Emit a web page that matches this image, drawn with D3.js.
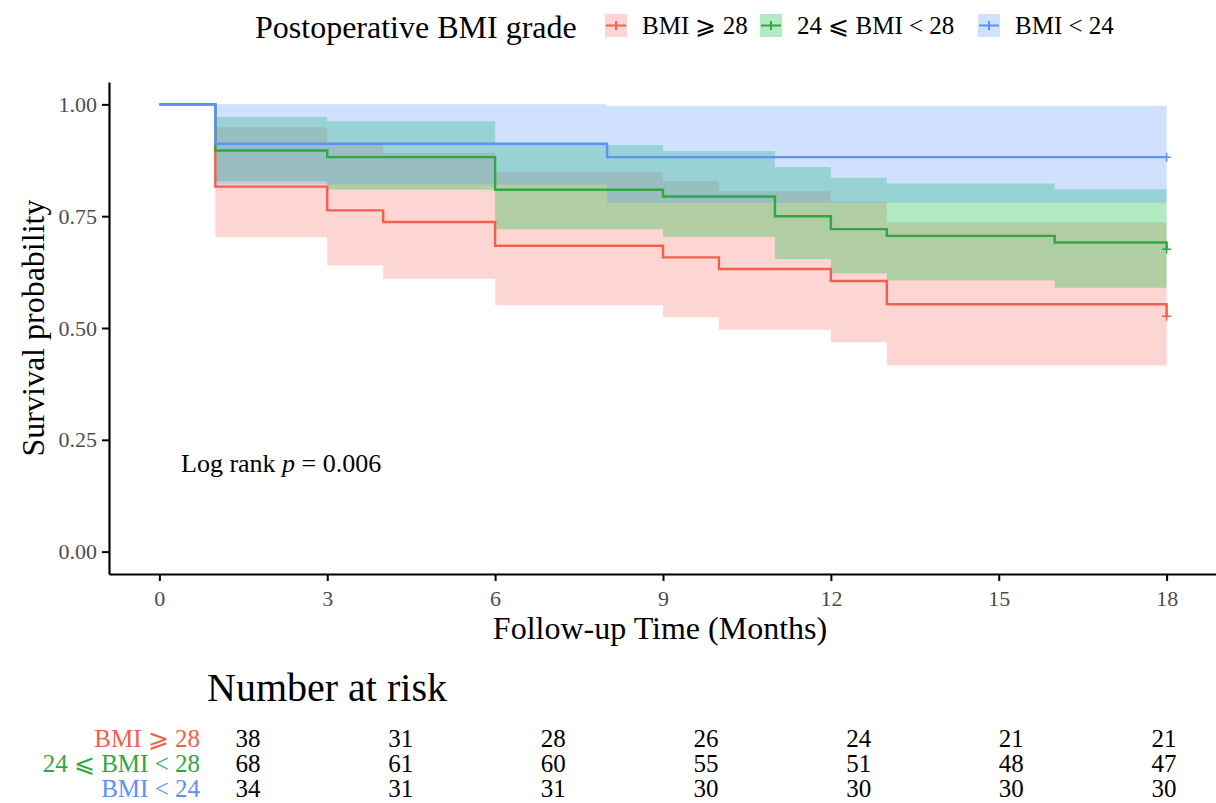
<!DOCTYPE html>
<meta charset="utf-8">
<script src="https://cdn.jsdelivr.net/npm/d3@7"></script>
<style>
body{margin:0; background:#fff;}
text{font-family:"Liberation Serif", "DejaVu Serif", serif;}
</style>
<div id="vis"></div>
<script>

// groups and colours
var groups = ["BMI ⩾ 28", "24 ⩽ BMI < 28", "BMI < 24"];
var colors = ["#F0604D", "#2FA843", "#5E91F6"];
var fills  = ["#F8766D", "#00BA38", "#619CFF"];

// Kaplan-Meier steps
var redTime  = [0, 1, 3, 4, 6, 9, 10, 12, 13, 18];
var redSurv  = [1, 0.816, 0.763, 0.737, 0.684, 0.658, 0.632, 0.605, 0.553, 0.526];
var redUpper = [1, 0.949, 0.911, 0.891, 0.849, 0.828, 0.806, 0.782, 0.736, 0.736];
var redLower = [1, 0.703, 0.640, 0.610, 0.551, 0.524, 0.496, 0.468, 0.416, 0.416];

var greenTime  = [0, 1, 3, 6, 9, 11, 12, 13, 16, 18];
var greenSurv  = [1, 0.897, 0.882, 0.809, 0.794, 0.750, 0.721, 0.706, 0.691, 0.676];
var greenUpper = [1, 0.972, 0.962, 0.909, 0.896, 0.860, 0.836, 0.823, 0.810, 0.810];
var greenLower = [1, 0.828, 0.809, 0.721, 0.704, 0.654, 0.622, 0.606, 0.590, 0.590];

var blueTime  = [0, 1, 8, 18];
var blueSurv  = [1, 0.912, 0.882, 0.882];
var blueUpper = [1, 1, 0.997, 0.997];
var blueLower = [1, 0.821, 0.780, 0.780];

// number at risk table
var riskTimes = [0, 3, 6, 9, 12, 15, 18];
var riskRed   = [38, 31, 28, 26, 24, 21, 21];
var riskGreen = [68, 61, 60, 55, 51, 48, 47];
var riskBlue  = [34, 31, 31, 30, 30, 30, 30];

var xTicks = [0, 3, 6, 9, 12, 15, 18];
var yTicks = [0, 0.25, 0.5, 0.75, 1];

function build(t, s, u, l) {
  return t.map(function(d, i) { return {t: d, s: s[i], u: u[i], l: l[i]}; });
}
var series = [
  build(redTime, redSurv, redUpper, redLower),
  build(greenTime, greenSurv, greenUpper, greenLower),
  build(blueTime, blueSurv, blueUpper, blueLower)
];
var risk = [riskRed, riskGreen, riskBlue];

var w = 1216, h = 803;
var svg = d3.select("#vis").append("svg")
    .attr("width", w).attr("height", h);

var x = d3.scaleLinear().domain([-0.9, 18.9]).range([109, 1217]);
var y = d3.scaleLinear().domain([-0.05, 1.05]).range([574, 82]);

// confidence bands
var area = d3.area().curve(d3.curveStepAfter)
    .x(function(d) { return x(d.t); })
    .y0(function(d) { return y(d.l); })
    .y1(function(d) { return y(d.u); });

svg.selectAll(".band")
  .data(series)
  .enter().append("path")
    .attr("class", "band")
    .attr("d", area)
    .attr("fill", function(d, i) { return fills[i]; })
    .attr("fill-opacity", 0.3);

// survival curves
var line = d3.line().curve(d3.curveStepAfter)
    .x(function(d) { return x(d.t); })
    .y(function(d) { return y(d.s); });

svg.selectAll(".curve")
  .data(series)
  .enter().append("path")
    .attr("class", "curve")
    .attr("d", line)
    .attr("fill", "none")
    .attr("stroke", function(d, i) { return colors[i]; })
    .attr("stroke-width", 2.4);

// censor marks at the end
series.forEach(function(s, i) {
  var last = s[s.length - 1];
  var cx = x(last.t), cy = y(last.s);
  svg.append("path")
    .attr("d", "M" + (cx - 4.5) + "," + cy + "H" + (cx + 4.5) + "M" + cx + "," + (cy - 4.5) + "V" + (cy + 4.5))
    .attr("stroke", colors[i])
    .attr("stroke-width", 1.5);
});

// axes
var xAxis = svg.append("g")
    .attr("transform", "translate(0,574)")
    .call(d3.axisBottom(x).tickValues(xTicks).tickSize(7).tickSizeOuter(0));
var yAxis = svg.append("g")
    .attr("transform", "translate(109,0)")
    .call(d3.axisLeft(y).tickValues(yTicks).tickFormat(d3.format(".2f")).tickSize(7).tickSizeOuter(0));

[xAxis, yAxis].forEach(function(a) {
  a.select(".domain").attr("stroke", "#000").attr("stroke-width", 2.2);
  a.selectAll(".tick line").attr("stroke", "#000").attr("stroke-width", 2);
  a.selectAll(".tick text")
    .attr("fill", "#4d4d4d")
    .style("font-size", "22px")
    .style("font-family", "Liberation Serif, serif");
});
xAxis.selectAll(".tick text").attr("dy", "1.0em");
yAxis.selectAll(".tick text").attr("x", -12);

// titles
svg.append("text")
    .attr("transform", "translate(44,328) rotate(-90)")
    .attr("text-anchor", "middle")
    .style("font-size", "32px")
    .text("Survival probability");

svg.append("text")
    .attr("x", 660).attr("y", 639)
    .attr("text-anchor", "middle")
    .style("font-size", "32px")
    .text("Follow-up Time (Months)");

var lr = svg.append("text")
    .attr("x", 181).attr("y", 472)
    .style("font-size", "26px");
lr.append("tspan").text("Log rank ");
lr.append("tspan").style("font-style", "italic").text("p");
lr.append("tspan").text(" = 0.006");

// legend
svg.append("text")
    .attr("x", 255).attr("y", 38)
    .style("font-size", "32px")
    .text("Postoperative BMI grade");

var legX = [605, 760, 978];
groups.forEach(function(g, i) {
  var lg = svg.append("g").attr("transform", "translate(" + legX[i] + ",14)");
  lg.append("rect")
    .attr("width", 22).attr("height", 23)
    .attr("fill", fills[i]).attr("fill-opacity", 0.3);
  lg.append("path")
    .attr("d", "M1,11.5H21M11,7V16")
    .attr("stroke", colors[i]).attr("stroke-width", 2);
  lg.append("text")
    .attr("x", 37).attr("y", 20)
    .style("font-size", "25px")
    .text(g);
});

// number at risk
svg.append("text")
    .attr("x", 207).attr("y", 701)
    .style("font-size", "40px")
    .text("Number at risk");

var xr = d3.scaleLinear().domain([0, 18]).range([248, 1164]);
var rowY = [747, 772, 797];

groups.forEach(function(g, i) {
  svg.append("text")
    .attr("x", 200).attr("y", rowY[i])
    .attr("text-anchor", "end")
    .attr("fill", colors[i])
    .style("font-size", "25px")
    .text(g);
  svg.selectAll(".risk" + i)
    .data(risk[i])
    .enter().append("text")
      .attr("x", function(d, j) { return xr(riskTimes[j]); })
      .attr("y", rowY[i])
      .attr("text-anchor", "middle")
      .style("font-size", "25px")
      .text(function(d) { return d; });
});

</script>
